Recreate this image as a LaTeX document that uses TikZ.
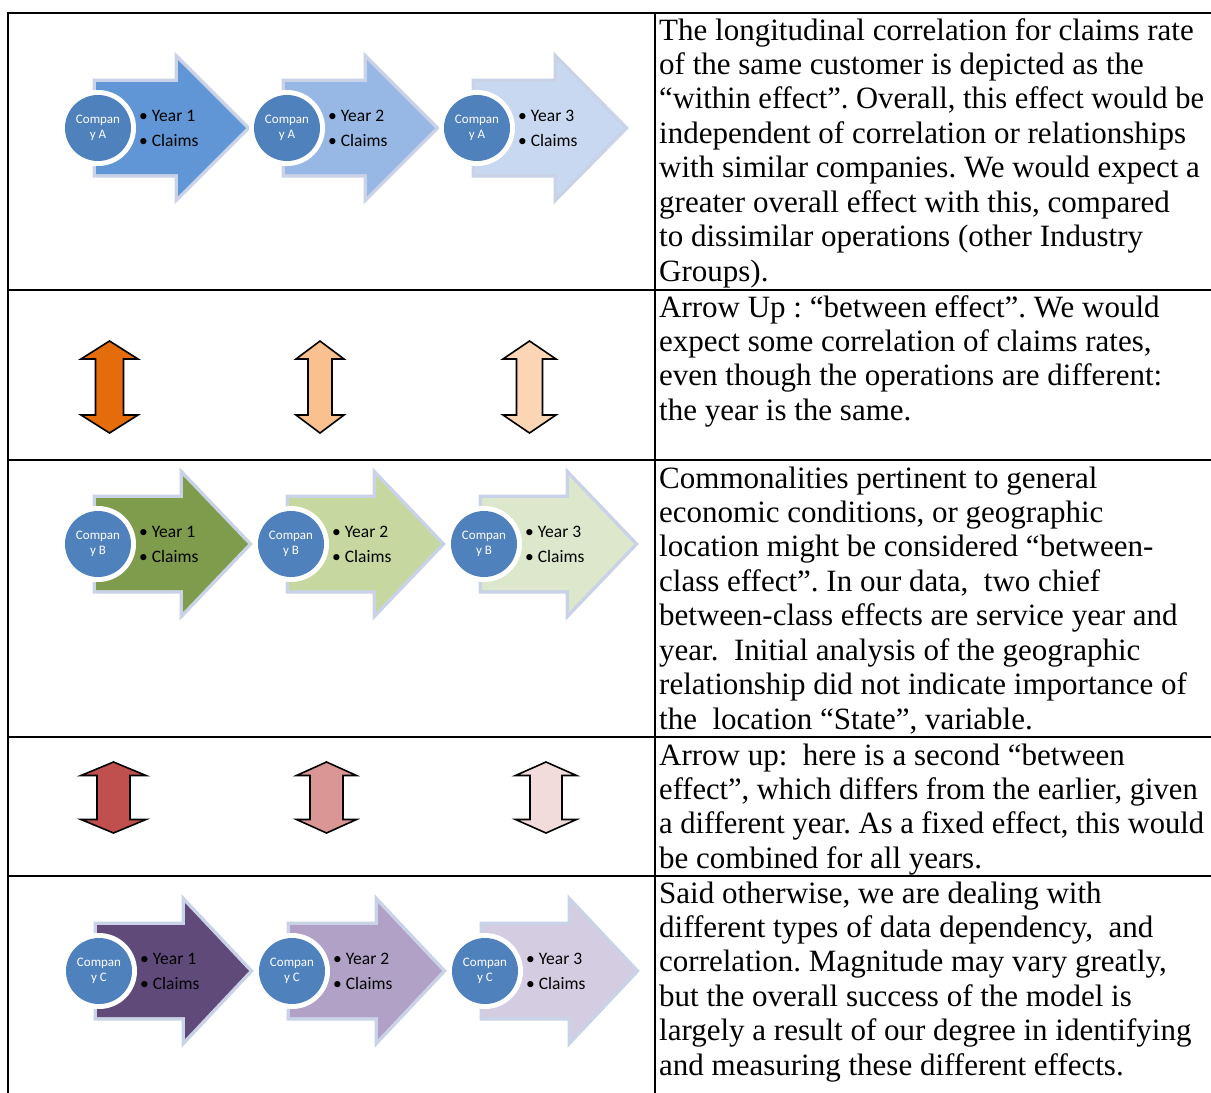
\documentclass[tikz,border=0pt]{standalone}
\usepackage{graphicx}
\usepackage{fontspec}
\setmainfont{Liberation Serif}
\newfontfamily\calib{Carlito}
\frenchspacing
\newcommand\narrowline[1]{\scalebox{0.985}[1]{#1}}
\definecolor{cblue}{HTML}{4F81BD}
\definecolor{glowc}{HTML}{C9D2E6}
\definecolor{bA}{HTML}{6096D6}
\definecolor{bB}{HTML}{97B8E5}
\definecolor{bC}{HTML}{C7D8F0}
\definecolor{gA}{HTML}{7F9C4C}
\definecolor{gB}{HTML}{C6D8A0}
\definecolor{gC}{HTML}{DDE7CB}
\definecolor{pA}{HTML}{5F4A7A}
\definecolor{pB}{HTML}{B1A1C7}
\definecolor{pC}{HTML}{D4CCE1}
\definecolor{oA}{HTML}{E46C0A}
\definecolor{oB}{HTML}{FAC08F}
\definecolor{oC}{HTML}{FCD5B5}
\definecolor{rA}{HTML}{C0504D}
\definecolor{rB}{HTML}{D99694}
\definecolor{rC}{HTML}{F2DCDB}
\tikzset{
  gridline/.style={line width=2pt, black},
  glowpath/.style={draw=glowc, line width=7pt, line join=miter},
  comp/.style={circle, minimum size=66pt, inner sep=0pt, fill=cblue, text=white, align=center, font=\calib\fontsize{13}{15}\selectfont},
  bul/.style={anchor=base west, inner sep=0pt, font=\calib\fontsize{17.5}{19}\selectfont},
  dblstyle/.style={draw=black, line width=1.6pt, line join=miter},
  rtext/.style={anchor=base west, inner sep=0pt, font=\fontsize{31}{34}\selectfont\frenchspacing}
}
% #1 name, #2 cx, #3 cy, #4 colour, #5 head base offset, #6 tip offset, #7 year, #8 letter
\newcommand\chev[8]{%
  \path[glowpath] ({#2-2},{#3-46}) -- ({#2+#5},{#3-46}) -- ({#2+#5},{#3-68}) -- ({#2+#6},{#3}) -- ({#2+#5},{#3+68}) -- ({#2+#5},{#3+46}) -- ({#2-2},{#3+46}) -- cycle;
  \fill[#4] ({#2-2},{#3-46}) -- ({#2+#5},{#3-46}) -- ({#2+#5},{#3-68}) -- ({#2+#6},{#3}) -- ({#2+#5},{#3+68}) -- ({#2+#5},{#3+46}) -- ({#2-2},{#3+46}) -- cycle;
  \fill[white] (#2,#3) circle (38pt);
  \node[comp] (#1c) at (#2,#3) {Compan\\y #8};
  \node[bul] (#1y) at ({#2+41},{#3-7}) {•\hspace{4pt}Year #7};
  \node[bul] (#1k) at ({#2+41},{#3+18}) {•\hspace{4pt}Claims};
}
% #1 cx, #2 top, #3 bottom, #4 half width, #5 shaft half width, #6 head height, #7 colour
\newcommand\dbl[7]{%
  \filldraw[dblstyle, fill=#7] (#1,#2) -- ({#1+#4},{#2+#6}) -- ({#1+#5},{#2+#6}) -- ({#1+#5},{#3-#6}) -- ({#1+#4},{#3-#6}) -- (#1,#3) -- ({#1-#4},{#3-#6}) -- ({#1-#5},{#3-#6}) -- ({#1-#5},{#2+#6}) -- ({#1-#4},{#2+#6}) -- cycle;
}
\begin{document}
\begin{tikzpicture}[x=1pt, y=-1pt]
\useasboundingbox (0,0) rectangle (1211,1093);
\fill[white] (0,0) rectangle (1211,1093);
% grid
\draw[gridline] (8,13) -- (1213,13);
\draw[gridline] (8,12) -- (8,1094);
\draw[gridline] (655,12) -- (655,1094);
\draw[gridline] (8,290) -- (1213,290);
\draw[gridline] (8,460) -- (1213,460);
\draw[gridline] (8,737) -- (1213,737);
\draw[gridline] (8,876) -- (1213,876);
% row 1
\chev{a1}{98}{128}{bA}{80}{148}{1}{A}
\chev{a2}{287}{128}{bB}{80}{148}{2}{A}
\chev{a3}{477}{128}{bC}{80}{147}{3}{A}
% row 2
\dbl{109.5}{341}{433}{28.5}{14}{18}{oA}
\dbl{320}{341}{433}{24}{12}{18}{oB}
\dbl{529.5}{341}{433}{26.5}{13}{18}{oC}
% row 3
\chev{b1}{98}{544}{gA}{85}{150}{1}{B}
\chev{b2}{291}{544}{gB}{85}{150}{2}{B}
\chev{b3}{484}{544}{gC}{85}{150}{3}{B}
% row 4
\dbl{113.5}{762}{833}{32.5}{16.5}{13.5}{rA}
\dbl{326.5}{762}{833}{30}{16.5}{13.5}{rB}
\dbl{546}{762}{833}{30.5}{16}{13.5}{rC}
% row 5
\chev{c1}{99}{971}{pA}{86}{150}{1}{C}
\chev{c2}{292}{971}{pB}{86}{150}{2}{C}
\chev{c3}{485}{971}{pC}{86}{150}{3}{C}
% right column texts
\foreach \t [count=\i from 0] in {
  {The longitudinal correlation for claims rate},
  {of the same customer is depicted as the},
  {\narrowline{“within effect”. Overall, this effect would be}},
  {independent of correlation or relationships},
  {with similar companies. We would expect a},
  {greater overall effect with this, compared},
  {to dissimilar operations (other Industry},
  {Groups).}}
  \node[rtext] (ta\i) at (659,{40+34.43*\i}) {\t};
\foreach \t [count=\i from 0] in {
  {Arrow Up : “between effect”. We would},
  {expect some correlation of claims rates,},
  {even though the operations are different:},
  {the year is the same.}}
  \node[rtext] (tb\i) at (659,{317+34.43*\i}) {\t};
\foreach \t [count=\i from 0] in {
  {Commonalities pertinent to general},
  {economic conditions, or geographic},
  {location might be considered “between-},
  {class effect”. In our data,\ \ two chief},
  {between-class effects are service year and},
  {year.\ \ Initial analysis of the geographic},
  {relationship did not indicate importance of},
  {the\ \ location “State”, variable.}}
  \node[rtext] (tc\i) at (659,{488+34.43*\i}) {\t};
\foreach \t [count=\i from 0] in {
  {Arrow up:\ \ here is a second “between},
  {\narrowline{effect”, which differs from the earlier, given}},
  {\narrowline{a different year. As a fixed effect, this would}},
  {be combined for all years.}}
  \node[rtext] (td\i) at (659,{765+34.43*\i}) {\t};
\foreach \t [count=\i from 0] in {
  {Said otherwise, we are dealing with},
  {different types of data dependency,\ \ and},
  {correlation. Magnitude may vary greatly,},
  {but the overall success of the model is},
  {largely a result of our degree in identifying},
  {and measuring these different effects.}}
  \node[rtext] (te\i) at (659,{903+34.43*\i}) {\t};
\end{tikzpicture}
\end{document}
